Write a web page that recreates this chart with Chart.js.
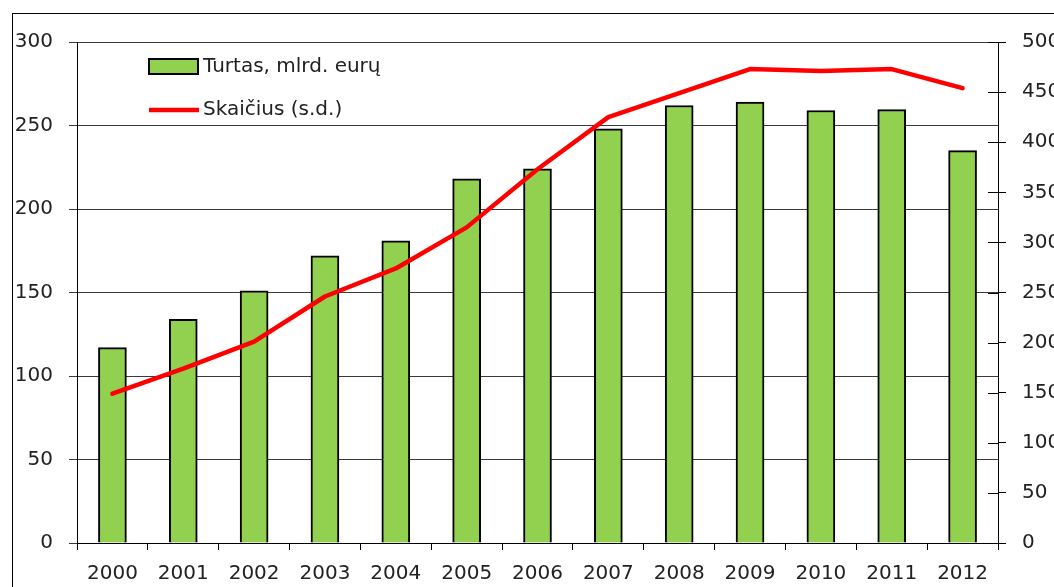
<!DOCTYPE html>
<html>
<head>
<meta charset="utf-8">
<script src="https://cdn.jsdelivr.net/npm/chart.js@4.4.0/dist/chart.umd.min.js"></script>
<style>
  html, body { margin: 0; padding: 0; background: #fff; overflow: hidden; width: 1054px; height: 587px; }
  #frame { position: absolute; left: 12px; top: 13px; width: 1120px; height: 600px; border: 1px solid #000; }
  #chart { display: block; }
</style>
</head>
<body>
<div id="frame"><canvas id="chart" width="1120" height="600"></canvas></div>
<script>
const years = ['2000', '2001', '2002', '2003', '2004', '2005', '2006', '2007', '2008', '2009', '2010', '2011', '2012'];
const assets = [117, 134, 151, 172, 181, 218, 224, 248, 262, 264, 259, 259.5, 235];
const counts = [149, 174, 201, 246, 274, 315, 373, 425, 449, 473, 471, 473, 454];
const assetsLabel = 'Turtas, mlrd. eurų';
const countsLabel = 'Skaičius (s.d.)';

const FONT = { family: '"DejaVu Sans", Verdana, sans-serif', size: 20 };
const TEXT = '#222';

// right axis ticks cross the axis line, and the legend sits inside the plot
const extras = {
  id: 'extras',
  afterDatasetsDraw(chart) {
    const { ctx, chartArea } = chart;
    const y2 = chart.scales.y2;
    ctx.save();
    ctx.strokeStyle = '#000';
    ctx.lineWidth = 1;
    y2.ticks.forEach((t) => {
      const y = Math.round(y2.getPixelForValue(t.value)) + 0.5;
      ctx.beginPath();
      ctx.moveTo(y2.left - 10, y);
      ctx.lineTo(y2.left, y);
      ctx.stroke();
    });

    const x0 = chartArea.left + 72;
    const bar = chart.data.datasets[0];
    const line = chart.data.datasets[1];
    ctx.fillStyle = bar.backgroundColor;
    ctx.fillRect(x0, chartArea.top + 17, 49, 15);
    ctx.lineWidth = 2;
    ctx.strokeStyle = bar.borderColor;
    ctx.strokeRect(x0, chartArea.top + 17, 49, 15);

    ctx.strokeStyle = line.borderColor;
    ctx.lineWidth = 4.5;
    ctx.beginPath();
    ctx.moveTo(x0, chartArea.top + 68);
    ctx.lineTo(x0 + 50, chartArea.top + 68);
    ctx.stroke();

    ctx.fillStyle = TEXT;
    ctx.font = `${FONT.size}px ${FONT.family}`;
    ctx.textBaseline = 'middle';
    ctx.fillText(bar.label, x0 + 54, chartArea.top + 25);
    ctx.fillText(line.label, x0 + 54, chartArea.top + 68);
    ctx.restore();
  },
};

new Chart(document.getElementById('chart'), {
  type: 'bar',
  data: {
    labels: years,
    datasets: [
      {
        type: 'bar',
        label: assetsLabel,
        data: assets,
        backgroundColor: '#92D050',
        borderColor: '#000',
        borderWidth: 2,
        barThickness: 28,
        yAxisID: 'y',
        order: 1,
      },
      {
        type: 'line',
        label: countsLabel,
        data: counts,
        borderColor: '#FF0000',
        borderWidth: 4.5,
        borderCapStyle: 'round',
        borderJoinStyle: 'round',
        pointRadius: 0,
        tension: 0,
        fill: false,
        yAxisID: 'y2',
        order: 0,
      },
    ],
  },
  options: {
    responsive: false,
    animation: false,
    devicePixelRatio: 1,
    layout: { padding: { top: 26, left: 0, right: 0, bottom: 0 } },
    plugins: {
      legend: { display: false },
      tooltip: { enabled: false },
    },
    scales: {
      x: {
        afterFit: (scale) => { scale.height = 71; },
        grid: { drawOnChartArea: false, drawTicks: true, tickLength: 7, color: '#000', offset: true },
        border: { color: '#000', width: 1 },
        ticks: { color: TEXT, font: FONT, padding: 12, maxRotation: 0, autoSkip: false },
      },
      y: {
        position: 'left',
        min: 0,
        max: 300,
        afterFit: (scale) => { scale.width = 64; },
        grid: { color: '#3a3a3a', lineWidth: 1, tickLength: 8 },
        border: { color: '#000', width: 1 },
        ticks: { stepSize: 50, color: TEXT, font: FONT, padding: 16 },
      },
      y2: {
        position: 'right',
        min: 0,
        max: 500,
        afterFit: (scale) => { scale.width = 135; },
        grid: { drawOnChartArea: false, color: '#000', tickLength: 8 },
        border: { color: '#000', width: 1 },
        ticks: { stepSize: 50, color: TEXT, font: FONT, padding: 16 },
      },
    },
  },
  plugins: [extras],
});
</script>
</body>
</html>
